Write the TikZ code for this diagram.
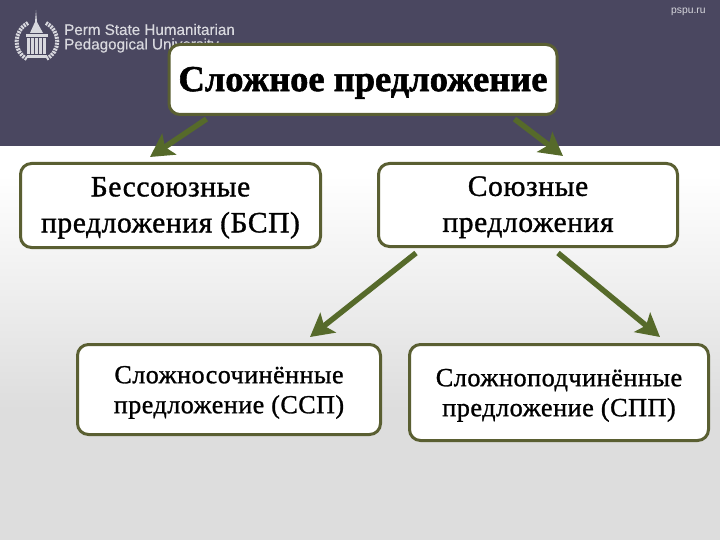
\documentclass[tikz,border=0pt]{standalone}
\usepackage{fontspec}
\setmainfont{Liberation Serif}
\newfontfamily\heavyserif[FakeBold=1.6]{Liberation Serif Bold}
\newfontfamily\midserif[FakeBold=1.1,LetterSpace=2]{Liberation Serif}
\newfontfamily\logosans[FakeBold=0.4]{Liberation Sans}
\usetikzlibrary{arrows.meta}
\definecolor{band}{HTML}{4A4760}
\definecolor{olive}{HTML}{5A5F32}
\definecolor{arrowgreen}{HTML}{566A2A}
\definecolor{logoc}{HTML}{D8D8DE}
\definecolor{pagegray}{HTML}{DDDDDD}
\newcommand\padtop[1]{\rule{0pt}{#1pt}}
\tikzset{
  box/.style={draw=olive,fill=white,line width=3pt,rounded corners=11pt,align=center,inner sep=0pt,text=black,anchor=north west},
  link/.style={draw=arrowgreen,line width=5.5pt,line join=round,-{Stealth[length=23pt,width=25pt,inset=5pt]}},
  small/.style={text=logoc,anchor=west,inner sep=0pt}
}
\begin{document}
\begin{tikzpicture}[x=1pt,y=-1pt]
\useasboundingbox (0,0) rectangle (720,540);
\fill[pagegray] (0,410) rectangle (720,540);
\fill[white] (0,146) rectangle (720,175);
\shade[top color=white,bottom color=pagegray] (0,175) rectangle (720,410);
\fill[band] (0,0) rectangle (720,146);
% logo
\begin{scope}[logoc]
\draw[line width=4pt,dash pattern=on 2pt off 1pt] (28,23) .. controls (13,31) and (13,52) .. (27,59);
\draw[line width=4pt,dash pattern=on 2pt off 1pt] (46,23) .. controls (61,31) and (61,52) .. (46,59);
\fill (36,10) -- (37,22) -- (43,33) -- (30,33) -- (35,22) -- cycle;
\fill (26,34) rectangle (48,37);
\foreach \i in {27,31,35,39,43}{\fill (\i,38) rectangle (\i+2.6,54);}
\fill (27,55) rectangle (47,58);
\end{scope}
\node[small,font=\logosans\fontsize{15.2}{17}\selectfont] (univa) at (64,29.5) {Perm State Humanitarian};
\node[small,font=\logosans\fontsize{15.2}{17}\selectfont] (univb) at (64,45.5) {Pedagogical University};
\node[small,font=\fontspec{Liberation Sans}\fontsize{10.3}{12}\selectfont] (site) at (671,12) {pspu.ru};
% boxes
\node[box,minimum width=388pt,minimum height=70pt,font=\heavyserif\fontsize{36.5}{40}\selectfont] (top) at (167.5,43) {\padtop{31}Сложное предложение};
\node[box,minimum width=300pt,minimum height=84pt,font=\midserif\fontsize{29.5}{36}\selectfont] (bsp) at (19,162) {\padtop{24}Бессоюзные\\предложения (БСП)};
\node[box,minimum width=299pt,minimum height=83pt,font=\midserif\fontsize{29.5}{36}\selectfont] (union) at (377,162) {\padtop{24}Союзные\\предложения};
\node[box,minimum width=303pt,minimum height=90pt,font=\midserif\fontsize{26}{30}\selectfont] (ssp) at (76,343) {\padtop{23}Сложносочинённые\\предложение (ССП)};
\node[box,minimum width=299pt,minimum height=96pt,font=\midserif\fontsize{26.2}{30}\selectfont] (spp) at (408,343) {\padtop{23}Сложноподчинённые\\предложение (СПП)};
% connector ends
\coordinate (a1) at ([xshift=39pt,yshift=-3pt]top.south west);
\coordinate (a2) at ([xshift=131pt,yshift=5pt]bsp.north west);
\coordinate (b1) at ([xshift=-44pt,yshift=-3pt]top.south east);
\coordinate (b2) at ([xshift=186pt,yshift=6pt]union.north west);
\coordinate (c1) at ([xshift=39pt,yshift=-5pt]union.south west);
\coordinate (c2) at ([xshift=234pt,yshift=6pt]ssp.north west);
\coordinate (d1) at ([xshift=181pt,yshift=-5pt]union.south west);
\coordinate (d2) at ([xshift=252pt,yshift=6pt]spp.north west);
\draw[link] (a1) -- (a2);
\draw[link] (b1) -- (b2);
\draw[link] (c1) -- (c2);
\draw[link] (d1) -- (d2);
\end{tikzpicture}
\end{document}
